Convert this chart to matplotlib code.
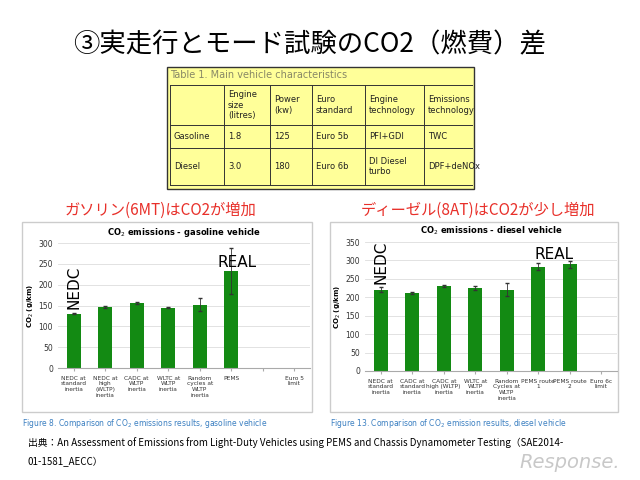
import matplotlib
matplotlib.use("Agg")
import matplotlib.pyplot as plt
from matplotlib.patches import Rectangle

plt.rcParams['font.family'] = ['DejaVu Sans', 'Noto Sans CJK JP']

gas_cats = ["NEDC at\nstandard\ninertia", "NEDC at\nhigh\n(WLTP)\ninertia", "CADC at\nWLTP\ninertia",
            "WLTC at\nWLTP\ninertia", "Random\ncycles at\nWLTP\ninertia", "PEMS", "", "Euro 5\nlimit"]
gas_vals = [130, 146, 156, 145, 152, 233, 0, 0]
gas_err = [1, 2, 2, 2, 15, 55, 0, 0]

die_cats = ["NEDC at\nstandard\ninertia", "CADC at\nstandard\ninertia", "CADC at\nhigh (WLTP)\ninertia",
            "WLTC at\nWLTP\ninertia", "Random\nCycles at\nWLTP\ninertia", "PEMS route\n1", "PEMS route\n2", "Euro 6c\nlimit"]
die_vals = [221, 212, 230, 226, 221, 283, 289, 0]
die_err = [7, 3, 2, 5, 18, 10, 10, 0]

table_header = ["", "Engine\nsize\n(litres)", "Power\n(kw)", "Euro\nstandard", "Engine\ntechnology", "Emissions\ntechnology"]
table_rows = [["Gasoline", "1.8", "125", "Euro 5b", "PFI+GDI", "TWC"],
              ["Diesel", "3.0", "180", "Euro 6b", "DI Diesel\nturbo", "DPF+deNOx"]]

W, H = 640, 480
fig = plt.figure(figsize=(6.4, 4.8), dpi=100)
bg = fig.add_axes([0, 0, 1, 1]); bg.set_xlim(0, W); bg.set_ylim(H, 0); bg.axis('off')

def ax_at(x0, y0, x1, y1):
    return fig.add_axes([x0 / W, 1 - y1 / H, (x1 - x0) / W, (y1 - y0) / H])

bg.text(310, 45, "③実走行とモード試験のCO2（燃費）差", fontsize=19, ha='center', va='center',
        family='Noto Sans CJK JP')

# table
bg.add_patch(Rectangle((167, 67), 307, 122, facecolor='#FFFF99', edgecolor='#333333', lw=1))
bg.text(170, 75, "Table 1. Main vehicle characteristics", fontsize=7, color='#888866', va='center')
colx = [170, 224, 270, 312, 365, 424, 474]
rowy = [85, 125, 148, 185]
for x in colx[1:-1]:
    bg.plot([x, x], [rowy[0], rowy[-1]], color='#333333', lw=0.7)
bg.plot([colx[0], colx[0]], [rowy[0], rowy[-1]], color='#333333', lw=0.7)
for y in rowy:
    bg.plot([colx[0], 472], [y, y], color='#333333', lw=0.7)
for i, h in enumerate(table_header):
    bg.text(colx[i] + 4, (rowy[0] + rowy[1]) / 2, h, fontsize=6, va='center', color='#222222')
for r, row in enumerate(table_rows):
    for i, c in enumerate(row):
        bg.text(colx[i] + 4, (rowy[r + 1] + rowy[r + 2]) / 2, c, fontsize=6, va='center', color='#222222')

red = '#E8302A'
bg.text(160, 210, "ガソリン(6MT)はCO2が増加", fontsize=11, color=red, ha='center', va='center', family='Noto Sans CJK JP')
bg.text(478, 210, "ディーゼル(8AT)はCO2が少し増加", fontsize=11, color=red, ha='center', va='center', family='Noto Sans CJK JP')

for bx in (22, 330):
    bg.add_patch(Rectangle((bx, 222), 290 if bx == 22 else 288, 190, facecolor='white', edgecolor='#cccccc', lw=1))

def chart(ax, cats, vals, err, ymax, title, notes):
    x = list(range(len(cats)))
    ax.bar(x, vals, width=0.45, color='#138A13')
    ex = [xi for xi, e in zip(x, err) if e > 0]
    ev = [v for v, e in zip(vals, err) if e > 0]
    ee = [e for e in err if e > 0]
    ax.errorbar(ex, ev, yerr=ee, fmt='none', ecolor='#333333', lw=0.6, capsize=1.5)
    ax.set_xlim(-0.5, len(cats) - 0.5); ax.set_ylim(0, ymax)
    ax.set_yticks(range(0, ymax + 1, 50))
    ax.tick_params(axis='y', labelsize=5.5, length=0, colors='#333333')
    ax.set_xticks(x); ax.set_xticklabels(cats, fontsize=4.2, color='#333333')
    ax.tick_params(axis='x', length=2, colors='#aaaaaa', labelcolor='#333333')
    ax.grid(axis='y', color='#dddddd', lw=0.6); ax.set_axisbelow(True)
    for s in ['top', 'right', 'left']:
        ax.spines[s].set_visible(False)
    ax.spines['bottom'].set_color('#aaaaaa')
    ax.set_ylabel("CO$_2$ (g/km)", fontsize=5, fontweight='bold', labelpad=2)
    ax.set_title(title, fontsize=6, fontweight='bold', pad=6)
    for (tx, ty, t, rot) in notes:
        ax.text(tx, ty, t, fontsize=11, rotation=rot, ha='center', va='bottom')

a1 = ax_at(58, 243, 310, 368)
chart(a1, gas_cats, gas_vals, gas_err, 300, "CO$_2$ emissions - gasoline vehicle",
      [(0, 142, "NEDC", 90), (5.2, 235, "REAL", 0)])
a2 = ax_at(365, 242, 617, 371)
chart(a2, die_cats, die_vals, die_err, 350, "CO$_2$ emissions - diesel vehicle",
      [(0, 235, "NEDC", 90), (5.5, 295, "REAL", 0)])

blue = '#3A7FC1'
bg.text(22, 424, "Figure 8. Comparison of CO$_2$ emissions results, gasoline vehicle", fontsize=5.5, color=blue, va='center')
bg.text(330, 424, "Figure 13. Comparison of CO$_2$ emission results, diesel vehicle", fontsize=5.5, color=blue, va='center')
bg.text(28, 443, "出典：An Assessment of Emissions from Light-Duty Vehicles using PEMS and Chassis Dynamometer Testing（SAE2014-",
        fontsize=7, va='center', family='Noto Sans CJK JP')
bg.text(28, 462, "01-1581_AECC）", fontsize=7, va='center', family='Noto Sans CJK JP')
bg.text(570, 462, "Response.", fontsize=14, color='#bbbbbb', style='italic', ha='center', va='center', alpha=0.8)

fig.savefig("out.png", dpi=100)
